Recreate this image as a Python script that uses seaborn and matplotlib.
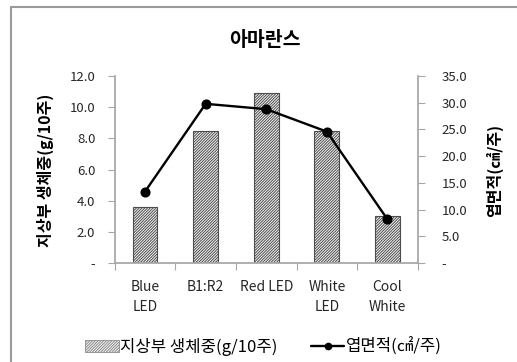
import numpy as np
import pandas as pd
import matplotlib
matplotlib.use("Agg")
import matplotlib.pyplot as plt
from matplotlib.patches import Rectangle, Patch
from matplotlib.lines import Line2D
from matplotlib.ticker import FixedLocator, FuncFormatter
import seaborn as sns

# Data
categories = ["Blue\nLED", "B1:R2", "Red LED", "White\nLED", "Cool\nWhite"]
fresh_weight = [3.6, 8.5, 10.9, 8.5, 3.0]      # 지상부 생체중 (g/10주)
leaf_area = [13.4, 29.8, 28.8, 24.6, 8.2]      # 엽면적 (㎠/주)
left_ticks = [0, 2, 4, 6, 8, 10, 12]
right_ticks = [0, 5, 10, 15, 20, 25, 30, 35]

title = "아마란스"
left_label = "지상부 생체중(g/10주)"
right_label = "엽면적(㎠/주)"

sns.set_theme(style="white")
plt.rcParams["font.family"] = ["Noto Sans CJK KR", "DejaVu Sans"]
plt.rcParams["hatch.color"] = "#7a7a7a"
plt.rcParams["hatch.linewidth"] = 0.7

df = pd.DataFrame({"cat": categories, "weight": fresh_weight, "area": leaf_area})

fig = plt.figure(figsize=(5.17, 3.62), dpi=100)
ax = fig.add_axes([0.222, 0.273, 0.586, 0.517])

sns.barplot(data=df, x="cat", y="weight", ax=ax, color="#f4f4f4", width=0.41,
            edgecolor="#4d4d4d", linewidth=0.8, hatch="////////////", saturation=1)

ax2 = ax.twinx()
sns.pointplot(data=df, x="cat", y="area", ax=ax2, color="black",
              markers="o", markersize=6, linewidth=1.7, errorbar=None)

ax.set_xlim(-0.5, 4.5)
ax.set_ylim(0, 12)
ax2.set_ylim(0, 35)

spine_color = "#a6a6a6"
text_color = "#262626"

def fmt(v, _):
    return "-" if abs(v) < 1e-9 else f"{v:.1f}"

for a, ticks in ((ax, left_ticks), (ax2, right_ticks)):
    a.yaxis.set_major_locator(FixedLocator(ticks))
    a.yaxis.set_major_formatter(FuncFormatter(fmt))
    a.set_xlabel("")
    a.set_ylabel("")
    for s in a.spines.values():
        s.set_visible(False)

ax.spines["left"].set_visible(True)
ax.spines["left"].set_color(spine_color)
ax.spines["bottom"].set_visible(True)
ax.spines["bottom"].set_color(spine_color)
ax2.spines["right"].set_visible(True)
ax2.spines["right"].set_color(spine_color)

ax.tick_params(axis="y", left=True, length=5, color=spine_color, width=0.8,
               labelsize=9.5, labelcolor=text_color, pad=9)
ax2.tick_params(axis="y", right=True, length=5, color=spine_color, width=0.8,
                labelsize=9.5, labelcolor=text_color, pad=12)

# category labels centred, tick marks between categories
ax.set_xticks(range(len(categories)))
ax.set_xticklabels(categories, linespacing=1.55)
ax.tick_params(axis="x", which="major", length=0, labelsize=10,
               labelcolor=text_color, pad=12)
ax.set_xticks(np.arange(-0.5, len(categories)), minor=True)
ax.tick_params(axis="x", which="minor", bottom=True, length=5,
               color=spine_color, width=0.8)

fig.text(0.513, 0.887, title, ha="center", va="center", fontsize=14,
         fontweight="bold", color="black")
fig.text(0.087, 0.53, left_label, ha="center", va="center", rotation=90,
         fontsize=11.5, fontweight="bold", color="black")
fig.text(0.957, 0.53, right_label, ha="center", va="center", rotation=90,
         fontsize=11.5, fontweight="bold", color="black")

handles = [
    Patch(facecolor="#f4f4f4", edgecolor="#8a8a8a", hatch="////////////", linewidth=0.6),
    Line2D([0], [0], color="black", marker="o", markersize=4.5, linewidth=1.7),
]
fig.legend(handles, [left_label, right_label], loc="center",
           bbox_to_anchor=(0.51, 0.042), ncol=2, frameon=False,
           fontsize=12, handlelength=2.0, handleheight=0.8, handletextpad=0.1,
           columnspacing=2.0, labelcolor="black")

# chart frame
fig.patches.append(Rectangle((11 / 517, -0.1), 1.2, 1 - 7 / 362 + 0.1,
                             transform=fig.transFigure, fill=False,
                             edgecolor="#9a9a9a", linewidth=1.5, zorder=0))

fig.savefig("out.png", dpi=100)
